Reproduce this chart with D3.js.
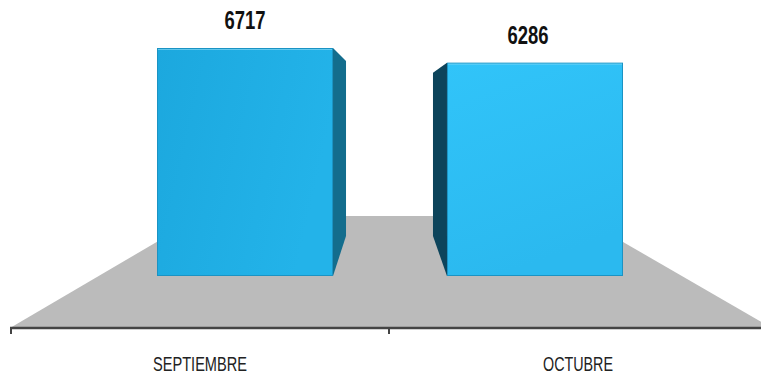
<!DOCTYPE html>
<html>
<head>
<meta charset="utf-8">
<script src="https://cdn.jsdelivr.net/npm/d3@7"></script>
<style>
html,body{margin:0;padding:0;background:#fff;}
svg{display:block;}
</style>
</head>
<body>
<svg id="chart" width="761" height="376"></svg>
<script>
const categories = ["SEPTIEMBRE", "OCTUBRE"];
const values = [6717, 6286];
const valueLabels = ["6717", "6286"];

const svg = d3.select("#chart");
const W = 761, H = 376;

const defs = svg.append("defs");
const g1 = defs.append("linearGradient").attr("id","front0").attr("x1","0").attr("y1","0").attr("x2","1").attr("y2","0.3");
g1.append("stop").attr("offset","0").attr("stop-color","#1ca8de");
g1.append("stop").attr("offset","1").attr("stop-color","#23b3e9");
const g2 = defs.append("linearGradient").attr("id","front1").attr("x1","0").attr("y1","0").attr("x2","0.3").attr("y2","1");
g2.append("stop").attr("offset","0").attr("stop-color","#31c4f9");
g2.append("stop").attr("offset","1").attr("stop-color","#2bb9ef");

const baseY = 276, axisY = 328;
const y = d3.scaleLinear().domain([0, d3.max(values)]).range([baseY, 48]);
const xAxis = d3.scaleBand().domain(categories).range([11, 767]).padding(0);
const xBar = d3.scaleBand().domain(categories).range([157, 623]).paddingInner(0.393).paddingOuter(0);

// floor
svg.append("polygon")
  .attr("points", [[10,axisY],[772,axisY],[578,216],[201,216]].map(p=>p.join(",")).join(" "))
  .attr("fill","#bbbbbb");

// bars
const sideColors = ["#136d8d", "#0d445b"];
categories.forEach((c,i)=>{
  const x0 = xBar(c), x1 = x0 + xBar.bandwidth();
  const top = y(values[i]);
  let side;
  if (i === 0) {
    side = [[x1,top],[x1+13,top+13],[x1+13,236],[x1,baseY]];
  } else {
    side = [[x0,top],[x0-14,top+10],[x0-14,236],[x0,baseY]];
  }
  svg.append("polygon").attr("points", side.map(p=>p.join(",")).join(" ")).attr("fill", sideColors[i]);
  svg.append("rect").attr("x",x0+0.5).attr("y",top+0.5).attr("width",x1-x0-1).attr("height",baseY-top-1)
    .attr("fill",`url(#front${i})`).attr("stroke","#1b93c3").attr("stroke-width",1);
  svg.append("line").attr("x1",x0+1).attr("x2",x1-1).attr("y1",top+1.5).attr("y2",top+1.5)
    .attr("stroke","#8fdcf7").attr("stroke-width",1).attr("opacity",0.6);
  // value label
  const lx = i === 0 ? (x0+x1)/2 : (x0-14+x1)/2;
  svg.append("text").attr("x",lx).attr("y",top-19)
    .attr("text-anchor","middle")
    .attr("font-family","'Liberation Sans Narrow','Liberation Sans',Arial,sans-serif")
    .attr("font-weight","bold").attr("font-size",25)
    .attr("textLength",41).attr("lengthAdjust","spacingAndGlyphs")
    .attr("fill","#111").text(valueLabels[i]);
});

// axis
const axisG = svg.append("g").attr("transform",`translate(0,${axisY})`);
axisG.append("line").attr("x1",10).attr("x2",761).attr("y1",0).attr("y2",0)
  .attr("stroke","#444").attr("stroke-width",2.5);
[xAxis.range()[0], xAxis(categories[1])].forEach(t=>{
  axisG.append("line").attr("x1",t).attr("x2",t).attr("y1",0).attr("y2",6)
    .attr("stroke","#444").attr("stroke-width",2);
});
const labelWidths = [94, 70];
categories.forEach((c,i)=>{
  axisG.append("text").attr("x", xAxis(c)+xAxis.bandwidth()/2).attr("y", 371-axisY)
    .attr("text-anchor","middle")
    .attr("font-family","'Liberation Sans Narrow','Liberation Sans',Arial,sans-serif")
    .attr("font-size",21)
    .attr("textLength",labelWidths[i]).attr("lengthAdjust","spacingAndGlyphs")
    .attr("fill","#222").text(c);
});
</script>
</body>
</html>
